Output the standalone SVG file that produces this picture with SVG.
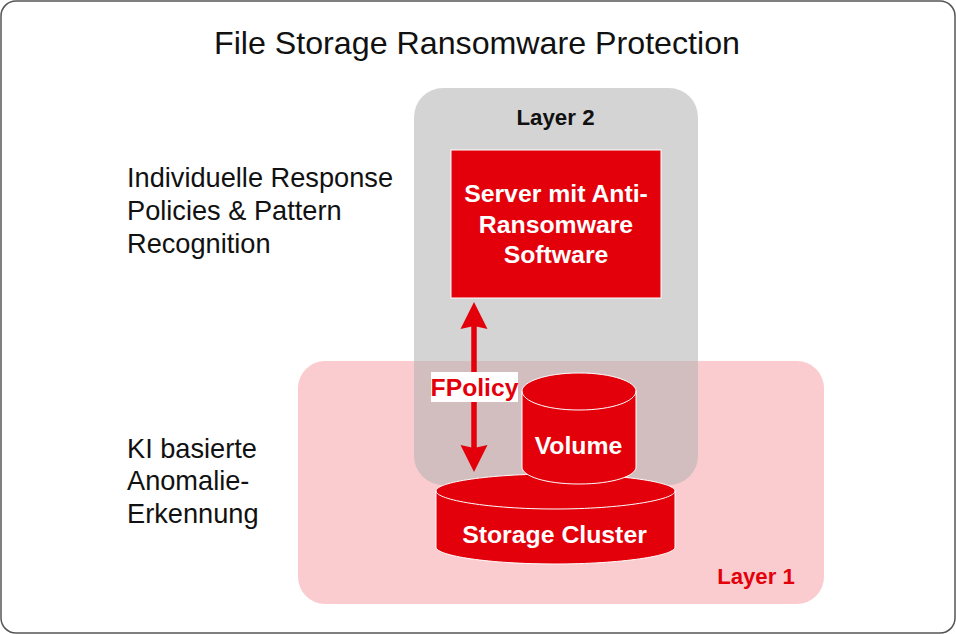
<svg xmlns="http://www.w3.org/2000/svg" width="956" height="634" viewBox="0 0 956 634">
<style>
text{font-family:"Liberation Sans",Arial,sans-serif}
.lab{font-size:27.2px;fill:#111}
.w{font-size:24.8px;font-weight:bold;fill:#fff;text-anchor:middle}
.cyl{fill:#e3000b;stroke:#fff;stroke-width:1}
.edge{fill:none;stroke:#fff;stroke-width:1}
</style>
<defs>
<marker id="ah" viewBox="0 0 28 28" refX="14" refY="14" markerWidth="28" markerHeight="28" markerUnits="userSpaceOnUse" orient="auto-start-reverse"><path d="M0 0.500L27 14L0 27.500L3 14Z" fill="#e3000b"/></marker>
</defs>
<rect x="0" y="0" width="956" height="634" fill="#fff"/>
<rect id="frame" x="1" y="1" width="954" height="632" rx="15" fill="#fff" stroke="#555" stroke-width="1.500"/>
<text x="477" y="54" font-size="32.200" fill="#111" text-anchor="middle">File Storage Ransomware Protection</text>
<g id="layer1"><rect x="298" y="361" width="526" height="243" rx="27" fill="#fbcccf"/></g>
<g id="layer2"><rect x="414" y="88" width="284" height="397" rx="29" fill="#b3b3b3" fill-opacity="0.56"/>
<text x="555.500" y="125" font-size="22.300" font-weight="bold" fill="#111" text-anchor="middle">Layer 2</text></g>
<g id="server"><rect x="451" y="150" width="210" height="148" fill="#e3000b" stroke="#fff" stroke-width="1"/>
<text class="w" x="556" y="202">Server mit Anti-</text><text class="w" x="556" y="233">Ransomware</text><text class="w" x="556" y="263">Software</text></g>
<g id="cluster"><path class="cyl" d="M436 491V547C436 556 490 564 555 564S675 556 675 547V491C675 482 620 474 555 474S436 482 436 491Z"/>
<path class="edge" d="M436 491C436 500 490 509 555 509S675 500 675 491"/>
<text class="w" x="554.500" y="543">Storage Cluster</text></g>
<g id="volume"><path class="cyl" d="M522 391V467C522 476 545 484 579 484S636 476 636 467V391C636 382 613 373 579 373S522 382 522 391Z"/>
<path class="edge" d="M522 391C522 401 545 410 579 410S636 401 636 391"/>
<text class="w" x="578.500" y="454">Volume</text></g>
<g id="connectors"><line x1="474" y1="459" x2="474" y2="315" stroke="#e3000b" stroke-width="5.500" marker-start="url(#ah)" marker-end="url(#ah)"/></g>
<g id="fpolicy"><rect x="431" y="372" width="87" height="30" fill="#fff"/>
<text x="474.500" y="396" font-size="24.700" font-weight="bold" fill="#e3000b" text-anchor="middle">FPolicy</text></g>
<g id="label-response"><text class="lab" x="127" y="187">Individuelle Response</text><text class="lab" x="127" y="220">Policies &amp; Pattern</text><text class="lab" x="127" y="253">Recognition</text></g>
<g id="label-ki"><text class="lab" x="127" y="458">KI basierte</text><text class="lab" x="127" y="490">Anomalie-</text><text class="lab" x="127" y="523">Erkennung</text></g>
<text x="756" y="584" font-size="22.200" font-weight="bold" fill="#e3000b" text-anchor="middle">Layer 1</text>
</svg>
